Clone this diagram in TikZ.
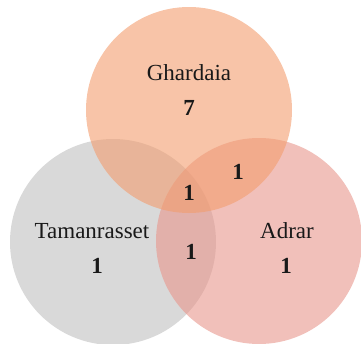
\documentclass[tikz,border=0pt]{standalone}
\usepackage{fontspec}
\setmainfont{Liberation Serif}
\definecolor{cOrange}{RGB}{243,157,110}
\definecolor{cGray}{RGB}{192,192,192}
\definecolor{cPink}{RGB}{232,150,140}
\tikzset{
  setcircle/.style={circle, minimum size=206pt, inner sep=0pt, draw=none, fill opacity=0.6},
  lbl/.style={font=\fontsize{23}{26}\selectfont, text=black!90, inner sep=0pt},
  num/.style={font=\fontsize{23}{26}\selectfont\bfseries, text=black!90, inner sep=0pt}
}
\begin{document}
\begin{tikzpicture}[x=1pt,y=-1pt]
\useasboundingbox (0,0) rectangle (361,343);
\node[setcircle, fill=cGray] (tam) at (113,242) {};
\node[setcircle, fill=cPink] (adr) at (259,241) {};
\node[setcircle, fill=cOrange] (gha) at (189,110) {};
\node[lbl] (ghaname) at (189,73) {Ghardaia};
\node[num] (ghanum) at (189,108) {7};
\node[num] (ga) at (238,172) {1};
\node[num] (all) at (189,193) {1};
\node[lbl] (tamname) at (92,231) {Tamanrasset};
\node[num] (tamnum) at (97,266) {1};
\node[num] (ta) at (191,252) {1};
\node[lbl] (adrname) at (287,231) {Adrar};
\node[num] (adrnum) at (286,266) {1};
\end{tikzpicture}
\end{document}
